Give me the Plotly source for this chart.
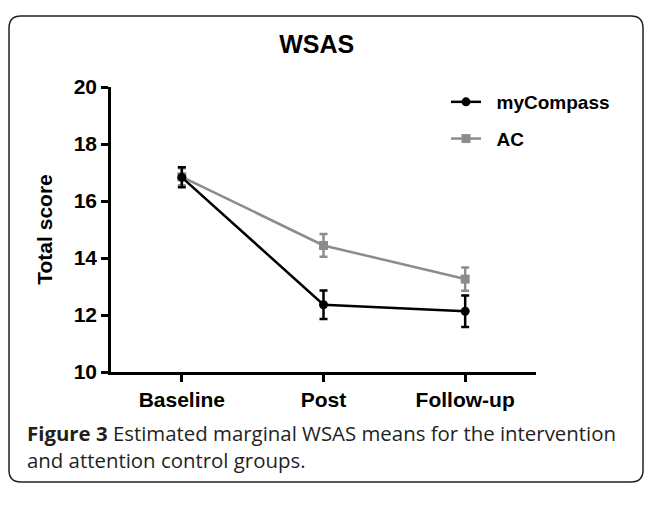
import plotly.graph_objects as go

# data
timepoints = ["Baseline", "Post", "Follow-up"]
mycompass_mean = [16.83, 12.36, 12.13]
mycompass_err = [0.35, 0.5, 0.55]
ac_mean = [16.85, 14.44, 13.26]
ac_err = [0.3, 0.4, 0.41]

W, H = 656, 505
OFF = 8  # page body margin shifts the figure by this much
L, T = 111 - OFF, 87 - OFF
pw, ph = 425, 285
R, B = W - L - pw, H - T - ph


def px(x):
    return (x - OFF - L) / pw


def py(y):
    return (H - B - (y - OFF)) / ph


fig = go.Figure()
fig.add_trace(go.Scatter(
    x=timepoints, y=ac_mean, name="\u00a0\u00a0AC", mode="lines+markers",
    legendgroup="ac", legendrank=2,
    line=dict(color="#8c8c8c", width=2.5),
    marker=dict(symbol="square", size=9, color="#8c8c8c"),
    error_y=dict(type="data", array=ac_err, color="#8c8c8c", thickness=2.5, width=4),
))
fig.add_trace(go.Scatter(
    x=timepoints, y=mycompass_mean, name="\u00a0\u00a0myCompass", mode="lines+markers",
    legendgroup="my", legendrank=1,
    line=dict(color="black", width=2.5),
    marker=dict(symbol="circle", size=9, color="black"),
    error_y=dict(type="data", array=mycompass_err, color="black", thickness=2.5, width=4),
))

# rounded frame around figure and caption
x0, x1, y0, y1, r = px(9), px(643), py(16), py(482), 12
rx, ry = r / pw, r / ph
path = (f"M {x0+rx},{y0} L {x1-rx},{y0} Q {x1},{y0} {x1},{y0-ry} "
        f"L {x1},{y1+ry} Q {x1},{y1} {x1-rx},{y1} L {x0+rx},{y1} "
        f"Q {x0},{y1} {x0},{y1+ry} L {x0},{y0-ry} Q {x0},{y0} {x0+rx},{y0} Z")
fig.add_shape(type="path", path=path, xref="paper", yref="paper",
              line=dict(color="#222", width=1.5))

fig.add_annotation(
    x=px(25), y=py(417), xref="paper", yref="paper", xanchor="left", yanchor="top",
    align="left", showarrow=False,
    text="<b>Figure 3</b> Estimated marginal WSAS means for the intervention<br>and attention control groups.",
    font=dict(family="Open Sans", size=20.4, color="#231f20"),
)

fig.update_layout(
    width=W, height=H, margin=dict(l=L, r=R, t=T, b=B),
    paper_bgcolor="white", plot_bgcolor="white",
    title=dict(text="<b>WSAS</b>", x=px(311), xanchor="center", y=1 - (44 - OFF) / H, yanchor="middle",
               font=dict(family="Liberation Sans", size=25, color="black")),
    showlegend=True,
    legend=dict(x=px(446), y=py(83), xanchor="left", yanchor="top", traceorder="grouped",
                tracegroupgap=9, bgcolor="rgba(0,0,0,0)",
                font=dict(family="Liberation Sans", size=19, color="black", weight="bold")),
    xaxis=dict(range=[-0.5, 2.5], showline=True, linecolor="black", linewidth=2.5,
               ticks="outside", ticklen=7, tickwidth=2.5, tickcolor="black",
               showgrid=False, zeroline=False,
               tickfont=dict(family="Liberation Sans", size=21, color="black", weight="bold")),
    yaxis=dict(range=[10, 20], showline=True, linecolor="black", linewidth=2.5,
               tickvals=[10, 12, 14, 16, 18, 20],
               ticks="outside", ticklen=7, tickwidth=2.5, tickcolor="black",
               showgrid=False, zeroline=False,
               tickfont=dict(family="Liberation Sans", size=21, color="black", weight="bold"),
               title=dict(text="Total score", standoff=16,
                          font=dict(family="Liberation Sans", size=21, color="black", weight="bold"))),
)

fig.write_html("out.html")
